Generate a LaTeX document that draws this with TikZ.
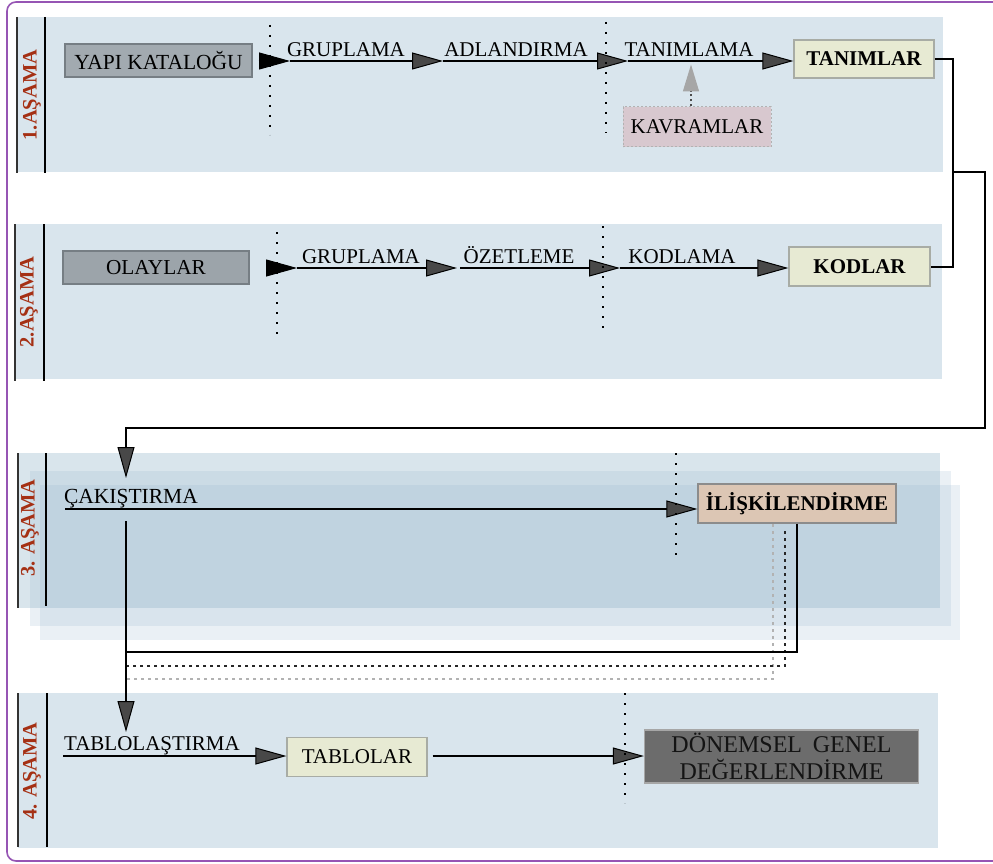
\documentclass[tikz,border=0pt]{standalone}
\usepackage{fontspec}
\setmainfont{Liberation Serif}
\usetikzlibrary{arrows.meta}
\definecolor{band}{RGB}{217,229,237}
\definecolor{bandt}{RGB}{150,183,205}
\definecolor{stagered}{RGB}{165,48,20}
\definecolor{framec}{RGB}{150,85,180}
\definecolor{graybox}{RGB}{162,170,176}
\definecolor{graybox2}{RGB}{156,164,170}
\definecolor{grayboxd}{RGB}{118,126,132}
\definecolor{paleg}{RGB}{231,234,211}
\definecolor{palegd}{RGB}{168,172,165}
\definecolor{tanc}{RGB}{220,198,180}
\definecolor{kavc}{RGB}{216,200,207}
\definecolor{darkbox}{RGB}{108,108,108}
\definecolor{arrgray}{RGB}{72,72,72}
\begin{document}
\begin{tikzpicture}[x=1pt,y=-1pt,
  bandfill/.style={fill=band, draw=none},
  bandtr/.style={fill=bandt, draw=none},
  sepl/.style={line width=1.5pt, draw=black!80},
  stg/.style={rotate=90, text=stagered, font=\bfseries\fontsize{20.5}{24}\selectfont, inner sep=0pt},
  lbl/.style={font=\fontsize{21}{24}\selectfont, anchor=base, inner sep=0pt},
  bx/.style={draw, line width=1.2pt, inner sep=0pt, font=\fontsize{21}{24}\selectfont},
  arr/.style={line width=2pt, -{Triangle[length=31pt,width=17pt,fill=arrgray,line width=1pt]}},
  arrb/.style={line width=2pt, -{Triangle[length=31pt,width=17pt,fill=black,line width=1pt]}},
  conn/.style={line width=2pt},
  dotv/.style={line width=1.6pt, dash pattern=on 2pt off 8pt},
  dotd/.style={line width=1.5pt, dash pattern=on 3pt off 4pt, draw=black!85},
  dotg/.style={line width=1.3pt, dash pattern=on 3pt off 4pt, draw=black!30},
]
\useasboundingbox (0,0) rectangle (993,864);
\fill[white] (0,0) rectangle (993,864);
% frame
\draw[draw=framec, line width=1.6pt, rounded corners=9pt] (7,2) rectangle (1010,861);

% bands
\fill[bandfill] (17,17) rectangle (943,172);
\fill[bandfill] (15,224) rectangle (942,379);
\fill[bandtr, opacity=0.36] (18,453) rectangle (940,608);
\fill[bandtr, opacity=0.2] (30,471) rectangle (951,626);
\fill[bandtr, opacity=0.2] (40,485) rectangle (960,640);
\fill[bandfill] (18,693) rectangle (938,848);

% label columns
\draw[sepl] (17,17) -- (17,173);
\draw[sepl, draw=black] (45,17) -- (45,173);
\draw[sepl] (15,224) -- (15,381);
\draw[sepl, draw=black] (44,224) -- (44,381);
\draw[sepl] (18,453) -- (18,608);
\draw[sepl, draw=black] (46,453) -- (46,606);
\draw[sepl] (18,693) -- (18,847);
\draw[sepl, draw=black] (47,693) -- (47,847);

\node[stg] (s1) at (32,95) {1.AŞAMA};
\node[stg] (s2) at (29,302) {2.AŞAMA};
\node[stg] (s3) at (30,528) {3. AŞAMA};
\node[stg] (s4) at (32,771) {4. AŞAMA};

% boxes
\node[bx, fill=graybox, draw=grayboxd, minimum width=187pt, minimum height=33pt, font=\fontsize{21.5}{24}\selectfont] (yapi) at (158.5,60.5) {YAPI KATALOĞU};
\node[bx, fill=paleg, draw=palegd, minimum width=140pt, minimum height=38pt, font=\bfseries\fontsize{21}{24}\selectfont] (tan) at (864,59) {TANIMLAR};
\node[bx, fill=kavc, draw=black!30, dash pattern=on 2pt off 2pt, line width=1pt, minimum width=148pt, minimum height=40pt] (kav) at (697,127) {KAVRAMLAR};
\node[bx, fill=graybox2, draw=grayboxd, minimum width=186pt, minimum height=33pt, font=\fontsize{21.3}{24}\selectfont] (olay) at (156,267.5) {OLAYLAR};
\node[bx, fill=paleg, draw=palegd, minimum width=141pt, minimum height=39pt, font=\bfseries\fontsize{21}{24}\selectfont] (kod) at (859.5,266.5) {KODLAR};
\node[bx, fill=tanc, draw=black!45, minimum width=198pt, minimum height=39pt, font=\bfseries\fontsize{21}{24}\selectfont] (ilis) at (797,503.5) {İLİŞKİLENDİRME};
\node[bx, fill=paleg, draw=palegd, minimum width=140pt, minimum height=39pt] (tabl) at (357,757) {TABLOLAR};
\node[bx, fill=darkbox, draw=black!35, minimum width=274pt, minimum height=53pt, align=center, text=black!92, font=\fontsize{24}{27}\selectfont] (donem) at (781.5,756.5) {DÖNEMSEL\hspace{0.45em}GENEL\\DEĞERLENDİRME};

% labels
\node[lbl] (l1) at (346,57) {GRUPLAMA};
\node[lbl] (l2) at (516,57) {ADLANDIRMA};
\node[lbl] (l3) at (689,57) {TANIMLAMA};
\node[lbl] (l4) at (361,263) {GRUPLAMA};
\node[lbl] (l5) at (519,263) {ÖZETLEME};
\node[lbl] (l6) at (682,263) {KODLAMA};
\node[lbl, font=\fontsize{21.5}{24}\selectfont] (l7) at (131,503) {ÇAKIŞTIRMA};
\node[lbl] (l8) at (152,750) {TABLOLAŞTIRMA};

% stage 1 arrows
\coordinate (p1) at (290,61);
\coordinate (p2) at (443,61);
\coordinate (p3) at (628,61);
\draw[arrb, shorten <=6pt] (yapi.east |- p1) -- (p1);
\draw[arr] (p1) -- (p2);
\draw[arr] (p2) -- (p3);
\draw[arr] (p3) -- (p3 -| tan.west);
\draw[line width=1.5pt, dash pattern=on 2pt off 3pt, draw=black!70, -{Triangle[length=27pt,width=16pt,color=black!35]}] ([xshift=-6pt]kav.north) -- ++(0,-42);

% stage 2 arrows
\coordinate (p4) at (297,268);
\coordinate (p5) at (457,268);
\coordinate (p6) at (620,268);
\draw[arrb, shorten <=17pt] (olay.east |- p4) -- (p4);
\draw[arr] (p4) -- (p5);
\draw[arr] ([xshift=3pt]p5) -- (p6);
\draw[arr] (p6) -- (p6 -| kod.west);

% right connectors
\coordinate (r1) at (953,172);
\coordinate (r2) at (985,428);
\coordinate (c3in) at (126,478);
\draw[conn] (tan.east) -- (tan.east -| r1) -- (kod.east -| r1) -- (kod.east);
\draw[arr] (r1) -- (r1 -| r2) -- (r2) -- (r2 -| c3in) -- (c3in);

% stage 3
\coordinate (c3s) at (65,509);
\draw[arr] (c3s) -- (c3s -| ilis.west);
\coordinate (v3) at (126,521);
\coordinate (v4) at (126,732);
\coordinate (j1) at (126,652);
\coordinate (d1s) at (785,531);
\coordinate (d1e) at (126,666);
\coordinate (d2s) at (773,524);
\coordinate (d2e) at (124,679);
\draw[dotg] (d2s) |- (d2e);
\draw[dotd] (d1s) |- (d1e);
\draw[conn] (ilis.south) |- (j1);
\draw[arr] (v3) -- (v4);

% stage 4
\coordinate (c4s) at (63,756);
\draw[arr] (c4s) -- (c4s -| tabl.west);
\draw[arr, shorten <=5pt] (tabl.east |- c4s) -- (c4s -| donem.west);

% dotted separators
\coordinate (q1a) at (270,25); \coordinate (q1b) at (270,135);
\coordinate (q2a) at (606,22); \coordinate (q2b) at (606,133);
\coordinate (q3a) at (277,232); \coordinate (q3b) at (277,340);
\coordinate (q4a) at (603,226); \coordinate (q4b) at (603,335);
\coordinate (q5a) at (676,453); \coordinate (q5b) at (676,562);
\coordinate (q6a) at (625,693); \coordinate (q6b) at (625,803);
\draw[dotv] (q1a) -- (q1b);
\draw[dotv] (q2a) -- (q2b);
\draw[dotv] (q3a) -- (q3b);
\draw[dotv] (q4a) -- (q4b);
\draw[dotv] (q5a) -- (q5b);
\draw[dotv] (q6a) -- (q6b);
\end{tikzpicture}
\end{document}
